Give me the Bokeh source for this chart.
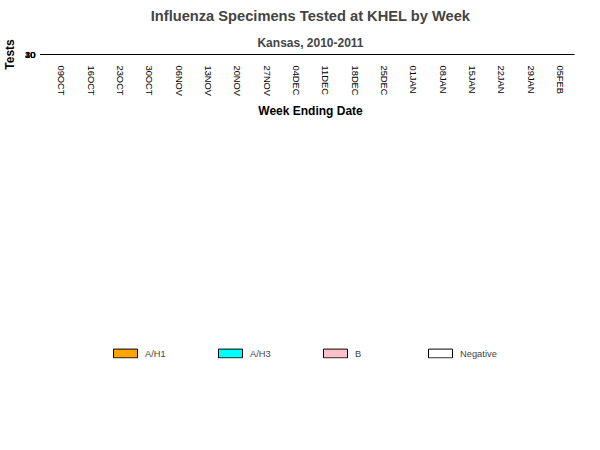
import math
from bokeh.plotting import figure
from bokeh.models import ColumnDataSource, Title, Legend, LegendItem, Label, FixedTicker
from bokeh.embed import file_html
from bokeh.resources import INLINE

weeks = ["09OCT","16OCT","23OCT","30OCT","06NOV","13NOV","20NOV","27NOV","04DEC",
         "11DEC","18DEC","25DEC","01JAN","08JAN","15JAN","22JAN","29JAN","05FEB"]
h1  = [0,0,0,0,1,0,0,0,0,1,0,0,1,4,4,2,6,5]
h3  = [0,0,0,1,0,0,0,0,0,0,0,3,5,5,2,10,11,5]
b   = [0,0,0,0,0,0,0,0,0,0,0,0,0,0,3,1,6,1]
neg = [3,8,6,11,12,17,19,5,11,14,12,6,12,8,7,7,8,2]
series = ["A/H1","A/H3","B","Negative"]
colors = ["#FFA500","#00FFFF","#FFC0CB","#FFFFFF"]

data = {"w": weeks, "A/H1": h1, "A/H3": h3, "B": b, "Negative": neg}
src = ColumnDataSource(data)

p = figure(x_range=weeks, y_range=(0, 42), width=584, height=434,
           output_backend="svg", toolbar_location=None,
           min_border_left=40, min_border_right=10)
p.add_layout(Title(text="Kansas, 2010-2011", align="center", text_font_size="9pt",
                   text_font="Liberation Sans", text_font_style="bold"), "above")
p.add_layout(Title(text="Influenza Specimens Tested at KHEL by Week", align="center",
                   text_font_size="11pt", text_font="Liberation Sans", text_font_style="bold"), "above")

rs = p.vbar_stack(series, x="w", width=0.7, source=src, fill_color=colors,
                  line_color="black", line_width=1)

lx, ly, lt = [], [], []
tx, ty, tt = [], [], []
for i, wk in enumerate(weeks):
    base = 0
    for s in series:
        v = data[s][i]
        if v >= 2:
            lx.append(wk); ly.append(base + v / 2); lt.append(str(v))
        base += v
    tx.append(wk); ty.append(base + 0.3); tt.append(str(base))
p.text(x=lx, y=ly, text=lt, text_align="center", text_baseline="middle",
       text_font_size="7pt", text_font={"value": "Liberation Sans"})
p.text(x=tx, y=ty, text=tt, text_align="center", text_baseline="bottom",
       text_font_size="7pt", text_font={"value": "Liberation Sans"})

p.xaxis.major_label_orientation = -math.pi / 2
p.xaxis.major_label_text_font_size = "7pt"
p.xaxis.axis_label = "Week Ending Date"
p.yaxis.axis_label = "Tests"
for ax in (p.xaxis, p.yaxis):
    ax.axis_label_text_font_style = "bold"
    ax.axis_label_text_font_size = "9pt"
    ax.axis_label_text_font = "Liberation Sans"
    ax.major_label_text_font = "Liberation Sans"
    ax.major_label_text_color = "black"
    ax.axis_label_text_color = "black"
p.yaxis.ticker = FixedTicker(ticks=[0, 10, 20, 30, 40])
p.yaxis.minor_tick_line_color = None
p.yaxis.major_label_text_font_size = "7pt"
p.xaxis.major_tick_line_color = None
p.xgrid.grid_line_color = None
p.ygrid.grid_line_color = None
p.outline_line_color = None

legend = Legend(items=[LegendItem(label=s, renderers=[r]) for s, r in zip(series, rs)],
                orientation="horizontal", location="center", border_line_color=None,
                label_text_font_size="7pt", label_text_font="Liberation Sans",
                glyph_width=30, glyph_height=11, spacing=20, padding=2, margin=4)
legend.label_width = 50
p.add_layout(legend, "below")
p.add_layout(Label(x=30, y=-95, x_units="screen", y_units="screen",
                   text="Influenza Test Result", text_font_size="7pt",
                   text_font_style="bold", text_font="Liberation Sans"))

open("out.html", "w").write(file_html(p, INLINE))
